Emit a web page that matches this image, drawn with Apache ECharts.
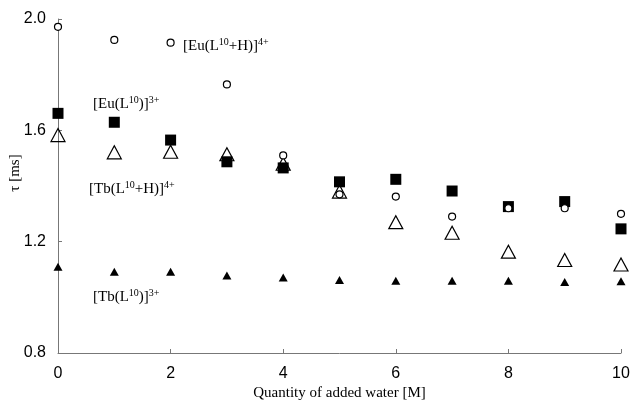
<!DOCTYPE html>
<html>
<head>
<meta charset="utf-8">
<script src="https://cdn.jsdelivr.net/npm/echarts@6/dist/echarts.min.js"></script>
<style>
  html, body { margin: 0; padding: 0; background: #fff; }
  #chart { width: 634px; height: 406px; }
</style>
</head>
<body>
<div id="chart"></div>
<script>
// water added [M]
var water = [0, 1, 2, 3, 4, 5, 6, 7, 8, 9, 10];
// lifetimes tau [ms]
var euLH = [1.972, 1.925, 1.915, 1.765, 1.51, 1.37, 1.362, 1.29, 1.32, 1.32, 1.30];
var euL = [1.661, 1.629, 1.565, 1.487, 1.465, 1.415, 1.424, 1.382, 1.326, 1.344, 1.246];
var tbLH = [1.583, 1.521, 1.523, 1.514, 1.48, 1.38, 1.27, 1.232, 1.164, 1.134, 1.118];
var tbL = [1.11, 1.092, 1.092, 1.078, 1.071, 1.062, 1.06, 1.06, 1.06, 1.055, 1.058];

function pts(vals) {
  return water.map(function (x, i) { return [x, vals[i]]; });
}

var serif = '"Liberation Serif", "DejaVu Serif", serif';
var sans = '"Liberation Sans", Arial, sans-serif';
var rich = {
  n: { fontFamily: serif, fontSize: 15, color: '#000' },
  s: { fontFamily: serif, fontSize: 10, color: '#000', verticalAlign: 'top', padding: [0, 0, 8, 0] }
};

function label(x, y, parts) {
  return {
    type: 'text', left: x, top: y,
    style: { text: parts, rich: rich }
  };
}

var chart = echarts.init(document.getElementById('chart'));
chart.setOption({
  animation: false,
  grid: { left: 58, right: 13, top: 19, bottom: 53, containLabel: false, outerBoundsMode: 'none' },
  xAxis: {
    type: 'value', min: 0, max: 10, interval: 2,
    name: 'Quantity of added water [M]',
    nameLocation: 'middle', nameGap: 33, nameMoveOverlap: false,
    nameTextStyle: { fontFamily: serif, fontSize: 15, color: '#000' },
    axisLine: { lineStyle: { color: '#777' } },
    axisTick: { inside: true, length: 4, lineStyle: { color: '#777' } },
    axisLabel: { fontFamily: sans, fontSize: 16, color: '#000', margin: 13 },
    splitLine: { show: false }
  },
  yAxis: {
    type: 'value', min: 0.8, max: 2.0, interval: 0.4,
    name: 'τ [ms]',
    nameLocation: 'middle', nameGap: 35, nameMoveOverlap: false,
    nameTextStyle: { fontFamily: serif, fontSize: 15, color: '#000', padding: [0, 0, 0, 26] },
    axisLine: { show: true, lineStyle: { color: '#777' } },
    axisTick: { show: true, inside: true, length: 4, lineStyle: { color: '#777' } },
    axisLabel: {
      fontFamily: sans, fontSize: 16, color: '#000', margin: 12,
      formatter: function (v) { return v.toFixed(1); }
    },
    splitLine: { show: false }
  },
  series: [
    {
      name: 'Eu(L10+H)', type: 'scatter', data: pts(euLH),
      symbol: 'circle', symbolSize: 7,
      itemStyle: { color: '#fff', borderColor: '#000', borderWidth: 1.2, opacity: 1 }, z: 4
    },
    {
      name: 'Eu(L10)', type: 'scatter', data: pts(euL),
      symbol: 'rect', symbolSize: 11,
      itemStyle: { color: '#000', opacity: 1 }, z: 2
    },
    {
      name: 'Tb(L10+H)', type: 'scatter', data: pts(tbLH),
      symbol: 'triangle', symbolSize: [14, 13],
      itemStyle: { color: 'rgba(255,255,255,0)', borderColor: '#000', borderWidth: 1.2, opacity: 1 }, z: 3
    },
    {
      name: 'Tb(L10)', type: 'scatter', data: pts(tbL),
      symbol: 'triangle', symbolSize: [9, 8],
      itemStyle: { color: '#000', opacity: 1 }, z: 2
    }
  ],
  graphic: [
    label(183, 37, '{n|[Eu(L}{s|10}{n|+H)]}{s|4+}'),
    label(93, 95, '{n|[Eu(L}{s|10}{n|)]}{s|3+}'),
    label(89, 180, '{n|[Tb(L}{s|10}{n|+H)]}{s|4+}'),
    label(93, 288, '{n|[Tb(L}{s|10}{n|)]}{s|3+}')
  ]
});
</script>
</body>
</html>
